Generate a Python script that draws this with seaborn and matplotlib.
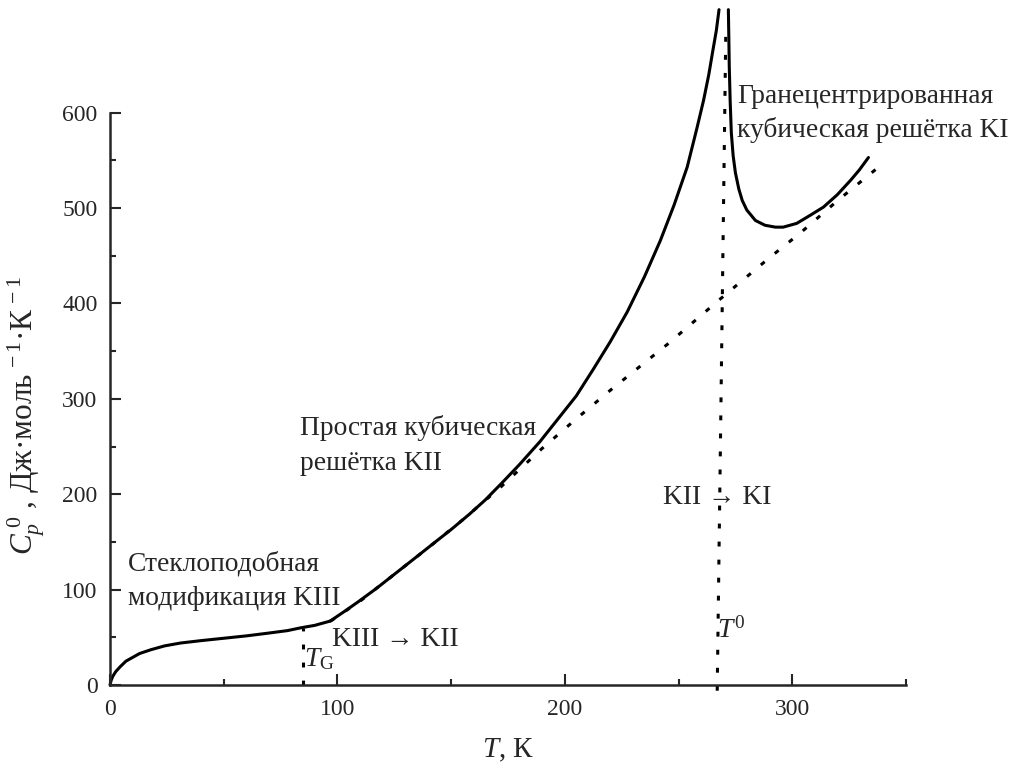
import matplotlib
matplotlib.use("Agg")
import matplotlib.pyplot as plt
import seaborn as sns

# ---- data ----
# glass-like KIII branch (solid)
T_glass = [0, 0.5, 1.2, 2.5, 4.4, 7, 10, 13, 18, 24, 31, 40, 50, 60, 70, 78, 84, 90, 96.8]
Cp_glass = [0, 5, 9, 14, 19, 25, 29, 33, 37, 41, 44, 46.5, 49, 51.5, 54.5, 57, 60, 62.5, 67]
# KII branch rising to the lambda peak (solid)
T_kii = [96.8, 103, 109, 117, 125, 133, 142, 150, 158, 165, 172, 180, 189, 198, 205,
         212.5, 220, 227.4, 235, 242, 248, 253.8, 258, 261, 263.3, 265, 266.6, 267.8]
Cp_kii = [67, 77, 87, 101, 116, 131, 148, 163, 179, 194, 211, 231, 255, 282, 303,
          331, 360, 391, 428, 466, 503, 543, 583, 613, 640, 664, 686, 708]
# KI branch after the peak (solid)
T_ki = [271.9, 272.1, 272.3, 272.7, 273.2, 274, 275, 276.5, 278, 280, 283.8, 288,
        292.6, 296, 302, 308, 313.7, 319.8, 325.6, 329.5, 333.5]
Cp_ki = [708, 680, 648, 612, 579, 555, 537, 520, 508, 498, 487, 482,
         480, 480, 484, 492.6, 501, 514, 529, 540, 553]
# lattice baseline (dotted)
T_base = [97, 110, 125, 140, 155, 172, 190, 205, 220, 245, 268, 290, 303.6, 320, 339]
Cp_base = [67, 88, 116, 144, 173, 208, 248, 279, 309, 357, 404, 448, 474, 508, 545]
# transition markers (dotted verticals)
T_G = [84.8, 84.8]
Cp_TG = [0, 60]
T_0 = [267, 270.8]
Cp_T0 = [-6, 690]

sns.set_style("ticks")
plt.rcParams["font.family"] = ["Liberation Serif", "DejaVu Serif"]
plt.rcParams["mathtext.fontset"] = "custom"
plt.rcParams["mathtext.rm"] = "Liberation Serif"
plt.rcParams["mathtext.it"] = "Liberation Serif:italic"

fig = plt.figure(figsize=(10.16, 7.74), dpi=100)
ax = fig.add_axes([0.1083, 0.115, 0.7834, 0.7394])

solid_kw = dict(color="black", linewidth=2.2, estimator=None, sort=False, clip_on=False)
dot_kw = dict(color="black", linewidth=2.2, estimator=None, sort=False, clip_on=False)

for xs, ys in [(T_glass, Cp_glass), (T_kii, Cp_kii), (T_ki, Cp_ki)]:
    sns.lineplot(x=xs, y=ys, ax=ax, **solid_kw)

for xs, ys in [(T_base, Cp_base), (T_G, Cp_TG), (T_0, Cp_T0)]:
    sns.lineplot(x=xs, y=ys, ax=ax, **dot_kw)
for ln in ax.get_lines()[3:]:
    ln.set_linestyle((0, (1.6, 4.3)))
    ln.set_dash_capstyle("butt")

ax.set_xlim(0, 350)
ax.set_ylim(0, 600)
ax.set_xticks([0, 100, 200, 300])
ax.set_xticks([50, 150, 250, 350], minor=True)
ax.set_yticks([0, 100, 200, 300, 400, 500, 600])
ax.set_yticks([50, 150, 250, 350, 450, 550], minor=True)
ax.tick_params(which="both", direction="in", width=1.5, labelsize=17)
ax.tick_params(which="major", length=8)
ax.tick_params(which="minor", length=4)
ax.tick_params(axis="x", pad=10)
ax.tick_params(axis="y", pad=9)
for s in ["top", "right"]:
    ax.spines[s].set_visible(False)
for s in ["left", "bottom"]:
    ax.spines[s].set_linewidth(1.8)

ax.set_xlabel(r"$T$, К", fontsize=21, labelpad=12)
ax.set_ylabel(r"$C_p^{\;0}$ , Дж·моль$^{\,-1}$·К$^{\,-1}$", fontsize=22.5)
ax.yaxis.set_label_coords(-0.079, 0.47)

fs = 19.8
ax.text(8, 120, "Стеклоподобная", fontsize=fs, va="baseline", ha="left")
ax.text(8, 84, "модификация KIII", fontsize=fs, va="baseline", ha="left")
ax.text(83.6, 262, "Простая кубическая", fontsize=fs, va="baseline", ha="left")
ax.text(83.6, 225, "решётка KII", fontsize=fs, va="baseline", ha="left")
ax.text(275.8, 610, "Гранецентрированная", fontsize=fs, va="baseline", ha="left")
ax.text(275.8, 574, "кубическая решётка KI", fontsize=fs, va="baseline", ha="left")
ax.text(97.5, 41, "KIII → KII", fontsize=fs, va="baseline", ha="left")
ax.text(243, 190, "KII → KI", fontsize=fs, va="baseline", ha="left")
ax.text(85.5, 20, r"$T_{\mathrm{G}}$", fontsize=fs, va="baseline", ha="left")
ax.text(267, 50, r"$T^{0}$", fontsize=fs, va="baseline", ha="left")

fig.savefig("out.png", dpi=100)
